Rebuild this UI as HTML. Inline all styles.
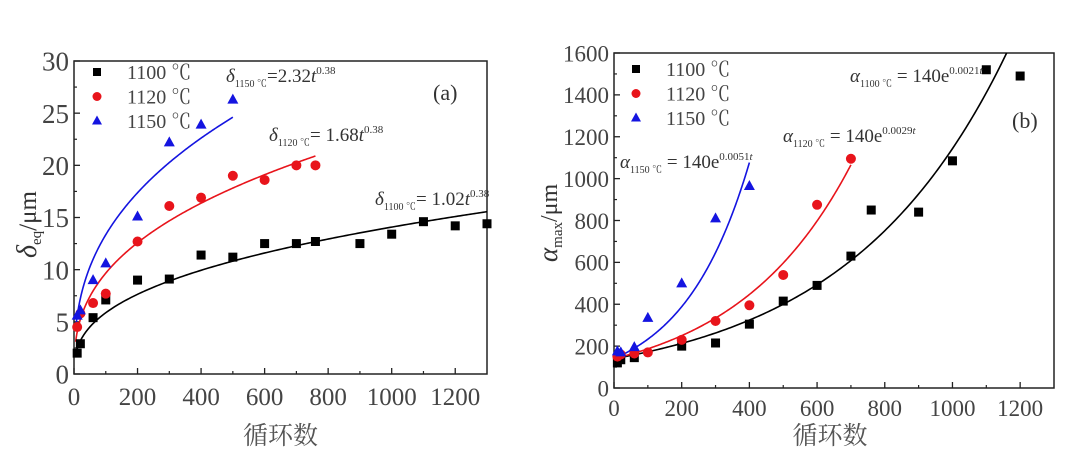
<!DOCTYPE html>
<html><head><meta charset="utf-8"><style>
html,body{margin:0;padding:0;background:#fff;width:1080px;height:467px;overflow:hidden}
svg{display:block;font-family:"Liberation Serif","Noto Serif CJK SC",serif}
</style></head><body>
<svg id="fig" width="1080" height="467" viewBox="0 0 1080 467"></svg>
<script>
// Panel (a) data
const aX1100=[10,20,60,100,200,300,400,500,600,700,760,900,1000,1100,1200,1300];
const aY1100=[2,2.9,5.4,7.1,9,9.1,11.4,11.2,12.5,12.5,12.7,12.5,13.4,14.6,14.2,14.4];
const aX1120=[10,20,60,100,200,300,400,500,600,700,760];
const aY1120=[4.5,5.8,6.8,7.7,12.7,16.1,16.9,19,18.6,20,20];
const aX1150=[10,20,60,100,200,300,400,500];
const aY1150=[5.6,6.1,9,10.6,15.1,22.2,23.9,26.3];
const aCoef=[1.02,1.68,2.32];
const aEnd=[1300,760,500];
const aExp=0.38;
const aXTicks=[0,200,400,600,800,1000,1200];
const aYTicks=[0,5,10,15,20,25,30];
// Panel (b) data
const bX1100=[10,20,60,200,300,400,500,600,700,760,900,1000,1100,1200];
const bY1100=[120,135,145,200,215,305,415,490,630,850,840,1085,1520,1490];
const bX1120=[10,20,60,100,200,300,400,500,600,700];
const bY1120=[150,160,165,170,230,320,395,540,875,1095];
const bX1150=[10,20,60,100,200,300,400];
const bY1150=[175,170,195,335,500,810,965];
const bK=[0.0021,0.0029,0.0051];
const bEnd=[1300,700,400];
const bA0=140;
const bXTicks=[0,200,400,600,800,1000,1200];
const bYTicks=[0,200,400,600,800,1000,1200,1400,1600];

const NS="http://www.w3.org/2000/svg";
const svg=document.getElementById('fig');
function el(tag,attrs,parent,text){const e=document.createElementNS(NS,tag);for(const k in attrs)e.setAttribute(k,attrs[k]);if(text!==undefined)e.textContent=text;(parent||svg).appendChild(e);return e;}
const colors=['#000','#e8141b','#1414e0'];
const names=['1100','1120','1150'];

function panel(P){
  const g=el('g',{});
  
  
  const sx=v=>P.x0+(v-P.xmin)/(P.xmax-P.xmin)*(P.x1-P.x0);
  const sy=v=>P.y0-(v-P.ymin)/(P.ymax-P.ymin)*(P.y0-P.y1);
  const defs=el('defs',{},g);const cp=el('clipPath',{id:P.id+'clip'},defs);
  el('rect',{x:P.x0,y:P.y1,width:P.x1-P.x0,height:P.y0-P.y1},cp);
  P.xt.forEach((t,i)=>{
    const x=sx(t);
    const tk=el('line',{x1:x,x2:x,y1:P.y0,y2:P.y0-6,stroke:'#222','stroke-width':1.3},g);
    
    const lb=el('text',{x:x,y:P.y0+P.xlOff,'text-anchor':'middle','font-size':P.xfs,fill:'#444'},g,String(t));
    
    if(i<P.xt.length-1){const m=sx(t+(P.xt[1]-P.xt[0])/2);el('line',{x1:m,x2:m,y1:P.y0,y2:P.y0-3,stroke:'#222','stroke-width':1.2},g);}
  });
  P.yt.forEach((t,i)=>{
    const y=sy(t);
    const tk=el('line',{x1:P.x0,x2:P.x0+6,y1:y,y2:y,stroke:'#222','stroke-width':1.3},g);
    
    const lb=el('text',{x:P.x0-5,y:y+P.yfs*0.36,'text-anchor':'end','font-size':P.yfs,fill:'#444'},g,String(t));
    
    if(i<P.yt.length-1){const m=sy(t+(P.yt[1]-P.yt[0])/2);el('line',{x1:P.x0,x2:P.x0+3,y1:m,y2:m,stroke:'#222','stroke-width':1.2},g);}
  });
  const box=el('rect',{x:P.x0,y:P.y1,width:P.x1-P.x0,height:P.y0-P.y1,fill:'none',stroke:'#222','stroke-width':1.5},g);
  
  for(let s=0;s<3;s++){
    let d='';
    for(let i=0;i<=200;i++){const t=P.tStart+(P.ends[s]-P.tStart)*i/200;const v=P.f(s,t);d+=(i?'L':'M')+sx(t).toFixed(2)+','+sy(v).toFixed(2);}
    const p=el('path',{d:d,fill:'none',stroke:colors[s],'stroke-width':1.6,'clip-path':'url(#'+P.id+'clip)'},g);
    
  }
  for(let s=0;s<3;s++){
    const xs=P.xs[s],ys=P.ys[s];
    for(let i=0;i<xs.length;i++){
      const x=sx(xs[i]),y=sy(ys[i]);let m;
      if(s===0)m=el('rect',{x:x-4.5,y:y-4.5,width:9,height:9,fill:colors[0]},g);
      else if(s===1)m=el('circle',{cx:x,cy:y,r:5,fill:colors[1]},g);
      else m=el('polygon',{points:`${x},${y-6} ${x-5.5},${y+4} ${x+5.5},${y+4}`,fill:colors[2]},g);
      
    }
  }
  for(let s=0;s<3;s++){
    const lx=P.legX,ly=P.legY+s*24.5;let m;
    if(s===0)m=el('rect',{x:lx-4,y:ly-4,width:8,height:8,fill:colors[0]},g);
    else if(s===1)m=el('circle',{cx:lx,cy:ly,r:4.5,fill:colors[1]},g);
    else m=el('polygon',{points:`${lx},${ly-5.5} ${lx-5},${ly+3.5} ${lx+5},${ly+3.5}`,fill:colors[2]},g);
    
    const t=el('text',{x:lx+30,y:ly+7,'font-size':20,fill:'#444'},g,names[s]+' ℃');
    
  }
  const xl=el('text',{x:(P.x0+P.x1)/2-P.xtShift,y:444,'text-anchor':'middle','font-size':25,fill:'#555','font-family':'"Noto Serif CJK SC",serif'},g,'循环数');
  
  return g;
}
panel({id:'a',x0:74,x1:487,y0:374,y1:61,xmin:0,xmax:1300,ymin:0,ymax:30,xt:aXTicks,yt:aYTicks,
  xs:[aX1100,aX1120,aX1150],ys:[aY1100,aY1120,aY1150],ends:aEnd,tStart:5,
  f:(s,t)=>aCoef[s]*Math.pow(t,aExp),legX:97,legY:72,xfs:25,yfs:27,xlOff:31,xtShift:0});
panel({id:'b',x0:614,x1:1054,y0:388,y1:53,xmin:0,xmax:1300,ymin:0,ymax:1600,xt:bXTicks,yt:bYTicks,
  xs:[bX1100,bX1120,bX1150],ys:[bY1100,bY1120,bY1150],ends:bEnd,tStart:0,
  f:(s,t)=>bA0*Math.exp(bK[s]*t),legX:636,legY:69,xfs:23,yfs:23,xlOff:28,xtShift:4});

function ann(html,x,y,name,fs,extra){const t=document.createElementNS(NS,'text');t.setAttribute('x',x);t.setAttribute('y',y);t.setAttribute('font-size',fs||19);t.setAttribute('fill','#333');if(extra)t.setAttribute('transform',extra);t.innerHTML=html;


svg.appendChild(t);}
const sub='font-size="10"';const sup='font-size="11"';
ann('<tspan font-style="italic">δ</tspan><tspan '+sub+' dy="5">1150 ℃</tspan><tspan dy="-5">=2.32</tspan><tspan font-style="italic">t</tspan><tspan '+sup+' dy="-8">0.38</tspan>',226,82,'equation-1150-a');
ann('<tspan font-style="italic">δ</tspan><tspan '+sub+' dy="5">1120 ℃</tspan><tspan dy="-5">= 1.68</tspan><tspan font-style="italic">t</tspan><tspan '+sup+' dy="-8">0.38</tspan>',269,141,'equation-1120-a');
ann('<tspan font-style="italic">δ</tspan><tspan '+sub+' dy="5">1100 ℃</tspan><tspan dy="-5">= 1.02</tspan><tspan font-style="italic">t</tspan><tspan '+sup+' dy="-8">0.38</tspan>',375,205,'equation-1100-a');
ann('(a)',433,100,'panel-label-a',22);
ann('<tspan font-style="italic" font-size="28">δ</tspan><tspan font-size="15" dy="5">eq</tspan><tspan dy="-5">/μm</tspan>',0,0,'y-axis-title-a',25,'translate(36,258) rotate(-90)');
ann('<tspan font-style="italic">α</tspan><tspan '+sub+' dy="5">1100 ℃</tspan><tspan dy="-5"> = 140e</tspan><tspan '+sup+' dy="-8">0.0021<tspan font-style="italic">t</tspan></tspan>',850,82,'equation-1100-b');
ann('<tspan font-style="italic">α</tspan><tspan '+sub+' dy="5">1120 ℃</tspan><tspan dy="-5"> = 140e</tspan><tspan '+sup+' dy="-8">0.0029<tspan font-style="italic">t</tspan></tspan>',783,142,'equation-1120-b');
ann('<tspan font-style="italic">α</tspan><tspan '+sub+' dy="5">1150 ℃</tspan><tspan dy="-5"> = 140e</tspan><tspan '+sup+' dy="-8">0.0051<tspan font-style="italic">t</tspan></tspan>',620,168,'equation-1150-b');
ann('(b)',1012,128,'panel-label-b',22);
ann('<tspan font-style="italic" font-size="27">α</tspan><tspan font-size="15" dy="5">max</tspan><tspan dy="-5">/μm</tspan>',0,0,'y-axis-title-b',24,'translate(557,262) rotate(-90)');
</script>
</body></html>
